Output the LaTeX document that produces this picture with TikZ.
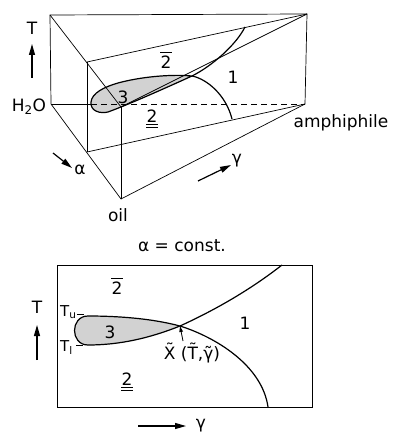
\documentclass[tikz,border=0pt]{standalone}
\usepackage{fontspec}
\setmainfont{DejaVu Sans}
\usetikzlibrary{arrows.meta}
\begin{document}
\begin{tikzpicture}[x=1pt,y=-1pt,
  edge/.style={line width=0.7pt},
  crv/.style={line width=1.2pt},
  lobe/.style={line width=1.2pt, fill=gray!35},
  bar/.style={line width=0.9pt},
  lbl/.style={font=\fontsize{17}{20}\selectfont, inner sep=0pt},
  slbl/.style={font=\fontsize{15}{18}\selectfont, inner sep=0pt},
  arr/.style={line width=1.2pt,-{Triangle[length=11pt,width=6pt]}},
  sarr/.style={line width=0.8pt,-{Triangle[length=6pt,width=3.5pt]}}]
\useasboundingbox (0,0) rectangle (392,435);

% ---------- prism ----------
\coordinate (Wt) at (50,15);
\coordinate (Wb) at (51,104);
\coordinate (At) at (307,14);
\coordinate (Ab) at (305,104);
\coordinate (Ot) at (121,107);
\coordinate (Ob) at (121,199);
\coordinate (Pt) at (87,62);
\coordinate (Pb) at (87,152);
\coordinate (C)  at (192,76);
\coordinate (Lh) at (91,104);

% lobe fill first
\fill[gray!35] (C) .. controls (170,74) and (140,77) .. (118,83)
  .. controls (104,87) and (92,93) .. (91,102)
  .. controls (90,111) and (100,114) .. (108,112)
  .. controls (130,104) and (170,86) .. (C);

\draw[edge] (Wt) -- (At) -- (Ab) -- (Ob) -- (Wb) -- cycle;
\draw[edge] (Wt) -- (Ot) -- (At);
\draw[edge] (Ot) -- (Ob);
\draw[edge] (Wb) -- (Lh);
\draw[edge,dash pattern=on 6pt off 4pt] (Lh) -- (Ab);
\draw[edge] (Pt) -- (At);
\draw[edge] (Pb) -- (Ab);
\draw[edge] (Pt) -- (Pb);

\draw[crv] (C) .. controls (170,74) and (140,77) .. (118,83)
  .. controls (104,87) and (92,93) .. (91,102)
  .. controls (90,111) and (100,114) .. (108,112)
  .. controls (130,104) and (170,86) .. (C);
\coordinate (Ue) at (245,27);
\coordinate (De) at (232,119);
\draw[crv] (C) .. controls (212,66) and (236,45) .. (Ue);
\draw[crv] (C) .. controls (207,79) and (226,95) .. (De);

\node[lbl] (T1) at (32,28) {T};
\coordinate (T1a) at (32,78);
\coordinate (T1b) at (32,44);
\draw[arr] (T1a) -- (T1b);
\node[lbl] (h2o) at (29,107) {H\textsubscript{2}O};
\node[lbl] (b2a) at (166,62) {2};
\draw[bar] ([yshift=3pt]b2a.north west) -- ([yshift=3pt]b2a.north east);
\node[lbl] (one1) at (233,77) {1};
\node[lbl] (three1) at (123,97) {3};
\node[lbl] (u2a) at (152,116) {2};
\draw[bar] ([yshift=-2pt]u2a.south west) -- ([yshift=-2pt]u2a.south east);
\draw[bar] ([yshift=-4.5pt]u2a.south west) -- ([yshift=-4.5pt]u2a.south east);
\node[lbl] (amph) at (341,123) {amphiphile};
\coordinate (al1) at (53,153);
\coordinate (al2) at (72,168);
\draw[arr] (al1) -- (al2);
\node[lbl] (alpha) at (80,170) {α};
\coordinate (ga1) at (198,181);
\coordinate (ga2) at (231,165);
\draw[arr] (ga1) -- (ga2);
\node[lbl] (gamma1) at (237,161) {γ};
\node[lbl] (oil) at (118,215) {oil};

% ---------- section ----------
\node[lbl] (const) at (182,246) {α = const.};
\coordinate (R1) at (57,265);
\coordinate (R2) at (312,407);
\draw[edge] (R1) rectangle (R2);

\coordinate (K) at (180,326);
\draw[lobe] (K) .. controls (150,318) and (115,316) .. (88,316)
  .. controls (70,316) and (70,345) .. (88,345)
  .. controls (120,345) and (150,338) .. (K);
\coordinate (Ku) at (282,265);
\coordinate (Kd) at (268,407);
\draw[crv] (K) .. controls (215,310) and (250,290) .. (Ku);
\draw[crv] (K) .. controls (215,337) and (262,365) .. (Kd);

\node[lbl] (b2b) at (117,288) {2};
\draw[bar] ([yshift=3pt]b2b.north west) -- ([yshift=3pt]b2b.north east);
\node[lbl] (three2) at (110,332) {3};
\node[lbl] (one2) at (245,323) {1};
\node[lbl] (u2b) at (127,379) {2};
\draw[bar] ([yshift=-2pt]u2b.south west) -- ([yshift=-2pt]u2b.south east);
\draw[bar] ([yshift=-4.5pt]u2b.south west) -- ([yshift=-4.5pt]u2b.south east);

\node[lbl] (T2) at (37,307) {T};
\coordinate (T2a) at (37,360);
\coordinate (T2b) at (37,325);
\draw[arr] (T2a) -- (T2b);

\node[slbl,anchor=west] (Tu) at (60,312) {T\textsubscript{u}};
\node[slbl,anchor=west] (Tl) at (60,348) {T\textsubscript{l}};
\coordinate (tu1) at (77,314);
\coordinate (tu2) at (84,314);
\coordinate (tl1) at (76,345);
\coordinate (tl2) at (83,345);
\draw[edge] (tu1) -- (tu2);
\draw[edge] (tl1) -- (tl2);

\node[lbl] (X) at (192,353) {X̃ (T̃,γ̃)};
\coordinate (xa) at (183,341);
\draw[sarr] (xa) -- (K);

\coordinate (g1) at (138,426);
\coordinate (g2) at (186,426);
\draw[arr] (g1) -- (g2);
\node[lbl] (gamma2) at (201,426) {γ};
\end{tikzpicture}
\end{document}
